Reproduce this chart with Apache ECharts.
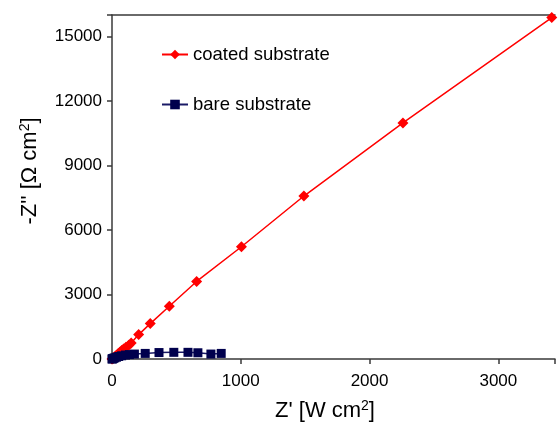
<!DOCTYPE html>
<html>
<head>
<meta charset="utf-8">
<script src="https://cdn.jsdelivr.net/npm/echarts@6/dist/echarts.min.js"></script>
<style>html,body{margin:0;padding:0;background:#fff;}#c{width:558px;height:423px;}</style>
</head>
<body>
<div id="c"></div>
<script>
var coatedX = [0, 3, 6, 11, 17, 25, 35, 47, 60, 75, 90, 108, 130, 149, 207, 297, 445, 657, 1005, 1490, 2259, 3415];
var coatedY = [0, 10, 25, 50, 80, 120, 175, 240, 310, 390, 470, 545, 635, 742, 1134, 1647, 2455, 3607, 5222, 7580, 10980, 15880];
var bareX = [0, 3, 7, 13, 22, 35, 52, 75, 105, 135, 174, 258, 365, 480, 590, 667, 768, 848];
var bareY = [0, 8, 18, 35, 55, 85, 115, 150, 185, 205, 230, 260, 300, 310, 310, 290, 230, 260];
var xTicks = [0, 1000, 2000, 3000];
var yTicks = [0, 3000, 6000, 9000, 12000, 15000];
var seriesNames = ['coated substrate', 'bare substrate'];

function pairs(xs, ys) { return xs.map(function (x, i) { return [x, ys[i]]; }); }

var chart = echarts.init(document.getElementById('c'));
var font = 'Liberation Sans, Arial, sans-serif';
var axisColor = '#3a3a3a';
chart.setOption({
  animation: false,
  backgroundColor: '#fff',
  grid: { left: 112, top: 15, width: 449, bottom: 64 },
  legend: {
    orient: 'vertical',
    left: 156, top: 40,
    itemWidth: 26, itemHeight: 12,
    itemGap: 31,
    textStyle: { fontFamily: font, fontSize: 18.5, color: '#000' },
    data: seriesNames
  },
  xAxis: [{
    type: 'value', min: 0, max: 3440, interval: 1000,
    axisLine: { show: true, onZero: false, lineStyle: { color: axisColor, width: 1.5 } },
    axisTick: { show: true, length: 5, lineStyle: { color: axisColor, width: 1.5 } },
    axisLabel: { margin: 14, fontFamily: font, fontSize: 17, color: '#000',
      formatter: function (v) { return xTicks.indexOf(v) >= 0 ? String(v) : ''; } },
    splitLine: { show: false }
  }, {
    type: 'value', position: 'top', min: 0, max: 3440,
    axisLine: { show: true, onZero: false, lineStyle: { color: axisColor, width: 1.5 } },
    axisTick: { show: false }, axisLabel: { show: false }, splitLine: { show: false }
  }],
  yAxis: {
    type: 'value', min: 0, max: 16000, interval: 3000,
    axisLine: { show: true, onZero: false, lineStyle: { color: axisColor, width: 1.5 } },
    axisTick: { show: true, length: 5, lineStyle: { color: axisColor, width: 1.5 } },
    axisLabel: { margin: 10, fontFamily: font, fontSize: 17, color: '#000',
      formatter: function (v) { return yTicks.indexOf(v) >= 0 ? String(v) : ''; } },
    splitLine: { show: false }
  },
  graphic: [{
    type: 'text', x: 325, y: 411,
    style: {
      text: "Z' [W cm{s|2}]", x: 0, y: 0, align: 'center', verticalAlign: 'middle',
      fontFamily: font, fontSize: 22, fill: '#000',
      rich: { s: { fontSize: 14, verticalAlign: 'top', padding: [0, 0, 10, 0], fontFamily: font } }
    }
  }, {
    type: 'text', x: 30, y: 171, rotation: Math.PI / 2,
    style: {
      text: "-Z'' [Ω cm{s|2}]", x: 0, y: 0, align: 'center', verticalAlign: 'middle',
      fontFamily: font, fontSize: 22, fill: '#000',
      rich: { s: { fontSize: 14, verticalAlign: 'top', padding: [0, 0, 10, 0], fontFamily: font } }
    }
  }],
  series: [{
    name: seriesNames[0], type: 'line', data: pairs(coatedX, coatedY),
    symbol: 'diamond', symbolSize: 11, showAllSymbol: true,
    itemStyle: { color: '#ff0000' }, lineStyle: { color: '#ff0000', width: 1.5 }
  }, {
    name: seriesNames[1], type: 'line', data: pairs(bareX, bareY),
    symbol: 'rect', symbolSize: 9, showAllSymbol: true,
    itemStyle: { color: '#00004d' }, lineStyle: { color: '#1a1a66', width: 1.5 }
  }]
});
</script>
</body>
</html>
